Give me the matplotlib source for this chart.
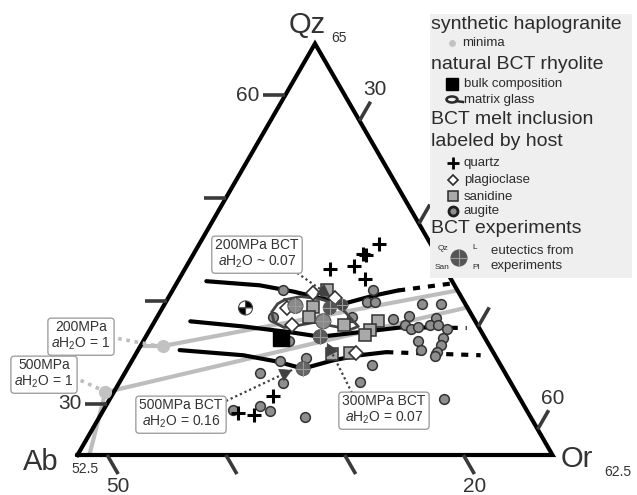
import numpy as np
import matplotlib
matplotlib.use("Agg")
import matplotlib.pyplot as plt
from matplotlib.patches import Rectangle, Circle, Wedge, Ellipse

plt.rcParams['font.family'] = ['Liberation Sans', 'DejaVu Sans']
plt.rcParams['mathtext.fontset'] = 'custom'
plt.rcParams['mathtext.rm'] = 'Liberation Sans'
plt.rcParams['mathtext.it'] = 'Liberation Sans:italic'

# ---- sub-triangle of the Qz-Ab-Or haplogranite system (wt%) ----
QZ_TOP, QZ_BASE = 65.0, 25.0
AB_MAX, OR_MAX = 52.5, 62.5
SPAN = QZ_TOP - QZ_BASE
OR_MIN = OR_MAX - SPAN
AB_MIN = AB_MAX - SPAN

# tick values on each edge
qz_ticks = [60, 50, 40, 30]
or_ticks = [30, 40, 50, 60]
ab_ticks = [50, 40, 30, 20]
qz_tick_labels = {60: "60", 30: "30"}
or_tick_labels = {30: "30", 60: "60"}
ab_tick_labels = {50: "50", 20: "20"}

# synthetic haplogranite minima (200 MPa, 500 MPa; aH2O = 1)
minima_qz = [35.6, 31.1]
minima_or = [24.4, 21.8]
# minimum trends with falling water activity
trend200_qz = [35.6, 35.6, 41.0]
trend200_or = [22.5, 24.4, 46.5]
trend500_qz = [25.0, 31.1, 39.4]
trend500_or = [23.5, 21.8, 48.3]

# BCT cotectics (solid) and their extrapolations (dashed)
cot200_qz = [41.9, 41.5, 40.9, 40.1, 39.6, 39.8, 40.5, 41.0]
cot200_or = [24.9, 29.6, 32.7, 36.0, 37.5, 37.8, 39.7, 41.5]
ext200_qz = [41.0, 41.7]
ext200_or = [41.5, 45.8]
cot300_qz = [38.0, 37.5, 36.9, 36.5, 36.8, 37.4, 37.4]
cot300_or = [25.5, 30.2, 34.7, 37.2, 39.3, 43.5, 45.2]
ext300_qz = [37.4, 37.35]
ext300_or = [45.2, 49.1]
cot500_qz = [35.2, 34.7, 34.1, 33.4, 34.2, 34.7, 35.0]
cot500_or = [26.0, 31.6, 34.7, 37.3, 39.4, 41.4, 43.5]
ext500_qz = [35.0, 34.7]
ext500_or = [43.5, 51.6]

# natural BCT rhyolite
bulk_qz, bulk_or = [36.4], [33.9]
glass_qz = [40.1, 40.4, 40.2, 39.7, 38.9, 38.1, 37.5, 37.2, 37.5, 37.9,
            37.6, 37.4, 37.9, 38.9, 39.7]
glass_or = [32.4, 33.6, 35.3, 36.8, 38.1, 39.1, 39.9, 39.4, 37.9, 36.0,
            34.8, 33.7, 32.6, 31.9, 32.0]

# melt inclusions by host
quartz_qz = [43.1, 43.4, 44.5, 44.4, 45.5, 42.1, 30.7, 29.1, 28.9]
quartz_or = [34.7, 36.6, 36.8, 37.1, 37.6, 38.2, 36.1, 34.0, 35.4]
plag_qz = [40.8, 40.3, 39.3, 37.6, 34.9]
plag_or = [34.4, 36.5, 33.0, 34.3, 41.0]
san_qz = [41.0, 39.4, 38.4, 37.6, 38.0, 37.2, 36.7, 34.9, 34.8]
san_or = [35.5, 35.1, 35.3, 38.6, 41.3, 41.0, 40.9, 40.5, 39.0]
aug_qz = [41.0, 41.0, 39.9, 39.9, 39.7, 39.7, 38.2, 38.5, 38.3, 37.6, 37.3,
          37.4, 37.6, 37.6, 37.3, 36.4, 36.1, 35.7, 35.2, 35.0, 34.6, 33.8,
          32.1, 30.4, 33.0, 32.0, 34.4, 36.1, 29.4, 29.8, 29.3, 28.7, 38.4,
          38.4, 34.1]
aug_or = [31.8, 39.4, 39.4, 40.1, 44.2, 45.8, 42.5, 43.7, 46.0, 43.8, 44.4,
          45.0, 45.9, 46.6, 47.5, 47.6, 45.6, 47.8, 46.3, 47.8, 47.8, 42.9,
          42.7, 50.7, 33.9, 36.3, 37.0, 34.8, 33.4, 35.5, 36.6, 39.8, 32.3,
          38.9, 35.0]

# BCT experiments: eutectics (all four phases) and a Liq + San run
eut_qz = [39.5, 38.0, 39.3, 39.6, 36.5, 33.4]
eut_or = [33.6, 36.7, 36.6, 37.5, 37.2, 37.3]
liq_san_qz, liq_san_or = 39.3, 29.5


def tern(qz, orr):
    """Qz / Or wt% -> cartesian, Ab corner at (0,0), Or corner at (1,0)."""
    qz = np.asarray(qz, float)
    orr = np.asarray(orr, float)
    tq = (qz - QZ_BASE) / SPAN
    to = (orr - OR_MIN) / SPAN
    return to + 0.5 * tq, tq * np.sqrt(3) / 2


PX = 475.0  # pixels per triangle side


def L(px, py):
    """layout helper: canvas pixel -> data coordinates"""
    return ((px - 77.5) / PX, (455 - py) / PX)


fig = plt.figure(figsize=(6.37, 4.95), dpi=100)
ax = fig.add_axes([0, 0, 1, 1])
ax.set_xlim(L(0, 0)[0], L(637, 0)[0])
ax.set_ylim(L(0, 495)[1], L(0, 0)[1])
ax.set_aspect('equal')
ax.axis('off')

INK = '#333333'
TICK = '#3a3a3a'
GRAY_LINE = '#bdbdbd'

# ---- triangle frame ----
fx, fy = tern([QZ_BASE, QZ_BASE, QZ_TOP, QZ_BASE], [OR_MIN, OR_MAX, OR_MIN, OR_MIN])
ax.plot(fx, fy, color='black', lw=3.0, solid_joinstyle='miter', zorder=3)

tl = 22 / PX
dirs = {'qz': (-1.0, 0.0), 'or': (0.5, np.sqrt(3) / 2), 'ab': (0.5, -np.sqrt(3) / 2)}
for q in qz_ticks:
    x0, y0 = tern(q, OR_MIN)
    x1, y1 = x0 + tl * dirs['qz'][0], y0 + tl * dirs['qz'][1]
    ax.plot([x0, x1], [y0, y1], color=TICK, lw=2.6, solid_capstyle='butt', zorder=3)
    if q in qz_tick_labels:
        ax.text(x1 - 4 / PX, y1, qz_tick_labels[q], ha='right', va='center',
                fontsize=15, color=INK)
for o in or_ticks:
    x0, y0 = tern(100 - AB_MIN - o, o)
    x1, y1 = x0 + tl * dirs['or'][0], y0 + tl * dirs['or'][1]
    ax.plot([x0, x1], [y0, y1], color=TICK, lw=2.6, solid_capstyle='butt', zorder=3)
    if o in or_tick_labels:
        ax.text(x1 + 4 / PX, y1 + 12 / PX, or_tick_labels[o], ha='center',
                va='center', fontsize=15, color=INK)
for a in ab_ticks:
    x0, y0 = tern(QZ_BASE, 100 - QZ_BASE - a)
    x1, y1 = x0 + tl * dirs['ab'][0], y0 + tl * dirs['ab'][1]
    ax.plot([x0, x1], [y0, y1], color=TICK, lw=2.6, solid_capstyle='butt', zorder=3)
    if a in ab_tick_labels:
        ax.text(x1, y1 - 12 / PX, ab_tick_labels[a], ha='center', va='center',
                fontsize=15, color=INK)

# apex labels
ax.text(*L(307, 25), "Qz", ha='center', va='center', fontsize=21, color=INK)
ax.text(*L(339, 38), "65", ha='center', va='center', fontsize=10, color=INK)
ax.text(*L(41, 462), "Ab", ha='center', va='center', fontsize=21, color=INK)
ax.text(*L(85, 469), "52.5", ha='center', va='center', fontsize=10, color=INK)
ax.text(*L(577, 459), "Or", ha='center', va='center', fontsize=21, color=INK)
ax.text(*L(618, 472), "62.5", ha='center', va='center', fontsize=10, color=INK)

# ---- minimum trends and minima ----
for qq, oo in [(trend200_qz, trend200_or), (trend500_qz, trend500_or)]:
    ax.plot(*tern(qq, oo), color=GRAY_LINE, lw=3.0, solid_capstyle='butt',
            solid_joinstyle='round', zorder=2)
ax.plot(*tern(minima_qz, minima_or), 'o', ms=9.5, color='#c2c2c2', mec='none', zorder=4)

# ---- cotectics ----
dash = (0, (1.7, 1.9))
for (cq, co), (eq, eo) in [((cot200_qz, cot200_or), (ext200_qz, ext200_or)),
                           ((cot300_qz, cot300_or), (ext300_qz, ext300_or)),
                           ((cot500_qz, cot500_or), (ext500_qz, ext500_or))]:
    ax.plot(*tern(cq, co), color='black', lw=3.0, solid_joinstyle='round',
            solid_capstyle='round', zorder=3)
    ax.plot(*tern(eq, eo), color='black', lw=3.0, linestyle=dash,
            dash_capstyle='butt', zorder=3)

# ---- melt inclusions ----
ax.plot(*tern(aug_qz, aug_or), 'o', ms=7, mfc='#8e8e8e', mec='#333333', mew=1.1,
        ls='none', zorder=4)
gx, gy = tern(glass_qz + glass_qz[:1], glass_or + glass_or[:1])
ax.plot(gx, gy, color='#444444', lw=2.0, solid_joinstyle='round', zorder=4.5)
ax.plot(*tern(san_qz, san_or), 's', ms=8, mfc='#a9a9a9', mec='#333333', mew=1.1,
        ls='none', zorder=5)
ax.plot(*tern(plag_qz, plag_or), 'D', ms=7.3, mfc='white', mec='#333333', mew=1.2,
        ls='none', zorder=5)
ax.plot(*tern(quartz_qz, quartz_or), '+', ms=10, mew=2.2, color='black',
        ls='none', zorder=5)
ax.plot(*tern(bulk_qz, bulk_or), 's', ms=11.5, color='black', ls='none', zorder=5)

# ---- experiments ----
eut_fill = ['#8a8a8a', '#8a8a8a', '#555555', '#444444', '#5a5a5a', '#666666']
eut_rad = [7.5, 7.5, 6.5, 5.5, 7.0, 7.0]


def eutectic(x, y, r, fc, z=6):
    ax.add_patch(Circle((x, y), r, fc=fc, ec='#555555', lw=0.8, zorder=z))
    ax.plot([x - r, x + r], [y, y], color='#9a9a9a', lw=0.8, zorder=z + 0.1)
    ax.plot([x, x], [y - r, y + r], color='#9a9a9a', lw=0.8, zorder=z + 0.1)


ex, ey = tern(eut_qz, eut_or)
for x, y, r, c in zip(ex, ey, eut_rad, eut_fill):
    eutectic(x, y, r / PX, c)

px_, py_ = tern(liq_san_qz, liq_san_or)
rq = 7 / PX
for a0, col in [(0, 'black'), (90, 'white'), (180, 'black'), (270, 'white')]:
    ax.add_patch(Wedge((px_, py_), rq, a0, a0 + 90, fc=col, ec='#444444', lw=0.8, zorder=6))

# ---- labels with leaders ----
box = dict(boxstyle='round,pad=0.25,rounding_size=0.25', fc='white', ec='#a0a0a0', lw=1.0)


def leader(p0, p1, color, lw, head=True):
    (x0, y0), (x1, y1) = L(*p0), L(*p1)
    ax.plot([x0, x1], [y0, y1], color=color, lw=lw, ls=(0, (1, 1.3)), zorder=7)
    if head:
        d = np.hypot(x1 - x0, y1 - y0)
        ux, uy = (x1 - x0) / d, (y1 - y0) / d
        ax.annotate('', xy=(x1, y1), xytext=(x1 - ux * 12 / PX, y1 - uy * 12 / PX),
                    arrowprops=dict(arrowstyle='-|>,head_length=0.8,head_width=0.45',
                                    color='#404040', lw=0.5, shrinkA=0, shrinkB=0),
                    zorder=7)


leader((110, 337), (158, 346), '#bdbdbd', 2.6, head=False)
leader((73, 377), (102, 390), '#bdbdbd', 2.6, head=False)
leader((293, 270), (330, 296), '#404040', 1.6)
leader((352, 393), (327, 343), '#404040', 1.6)
leader((226, 401), (292, 370), '#404040', 1.6)

lbl = dict(ha='center', va='center', fontsize=10, color=INK, bbox=box,
           linespacing=1.1, zorder=8)
ax.text(*L(81, 336), "200MPa\n$a$H$_2$O = 1", **lbl)
ax.text(*L(44, 374), "500MPa\n$a$H$_2$O = 1", **lbl)
ax.text(*L(257, 254), "200MPa BCT\n$a$H$_2$O ~ 0.07", **lbl)
ax.text(*L(181, 414), "500MPa BCT\n$a$H$_2$O = 0.16", **lbl)
ax.text(*L(384, 410), "300MPa BCT\n$a$H$_2$O = 0.07", **lbl)

# ---- legend ----
lx0, ly0 = L(430, 278)
ax.add_patch(Rectangle((lx0, ly0), 202 / PX, 264 / PX, fc='#efefef', ec='none', zorder=9))
big = dict(ha='left', va='center', fontsize=14, color='#2b2b2b', zorder=10)
small = dict(ha='left', va='center', fontsize=9.5, color='#2b2b2b', zorder=10)
tiny = dict(ha='center', va='center', fontsize=6, color='#2b2b2b', zorder=10)
ax.text(*L(431, 25), "synthetic haplogranite", **big)
ax.text(*L(431, 65), "natural BCT rhyolite", **big)
ax.text(*L(431, 119), "BCT melt inclusion", **big)
ax.text(*L(431, 142), "labeled by host", **big)
ax.text(*L(431, 229), "BCT experiments", **big)

ax.plot(*L(452, 43), 'o', ms=5, color='#c2c2c2', mec='none', zorder=10)
ax.text(*L(462, 43), "minima", **small)
ax.plot(*L(452, 84), 's', ms=8, color='black', zorder=10)
ax.text(*L(464, 84), "bulk composition", **small)
ax.add_patch(Ellipse(L(452, 99.5), 11 / PX, 6 / PX, fc='none', ec='#2b2b2b', lw=1.8, zorder=10))
ax.plot(*zip(L(456, 101), L(463, 102)), color='#2b2b2b', lw=1.8, zorder=10)
ax.text(*L(464, 100), "matrix glass", **small)
ax.plot(*L(453, 163), '+', ms=8, mew=2.0, color='black', zorder=10)
ax.text(*L(464, 163), "quartz", **small)
ax.plot(*L(453, 180), 'D', ms=5.5, mfc='white', mec='#2b2b2b', mew=1.2, zorder=10)
ax.text(*L(464, 180), "plagioclase", **small)
ax.plot(*L(453, 196.5), 's', ms=6.5, mfc='#a9a9a9', mec='#2b2b2b', mew=1.1, zorder=10)
ax.text(*L(464, 197), "sanidine", **small)
ax.plot(*L(453, 211), 'o', ms=6.5, mfc='#8e8e8e', mec='#1e1e1e', mew=2.0, zorder=10)
ax.text(*L(464, 211), "augite", **small)

lgx, lgy = L(459, 258)
eutectic(lgx, lgy, 8 / PX, '#555555', z=10)
ax.text(*L(443, 249), "Qz", **tiny)
ax.text(*L(475, 248), "L", **tiny)
ax.text(*L(442, 268), "San", **tiny)
ax.text(*L(476, 268), "Pl", **tiny)
ax.text(*L(491, 251), "eutectics from", **small)
ax.text(*L(491, 266), "experiments", **small)

fig.savefig("out.png", dpi=100)
